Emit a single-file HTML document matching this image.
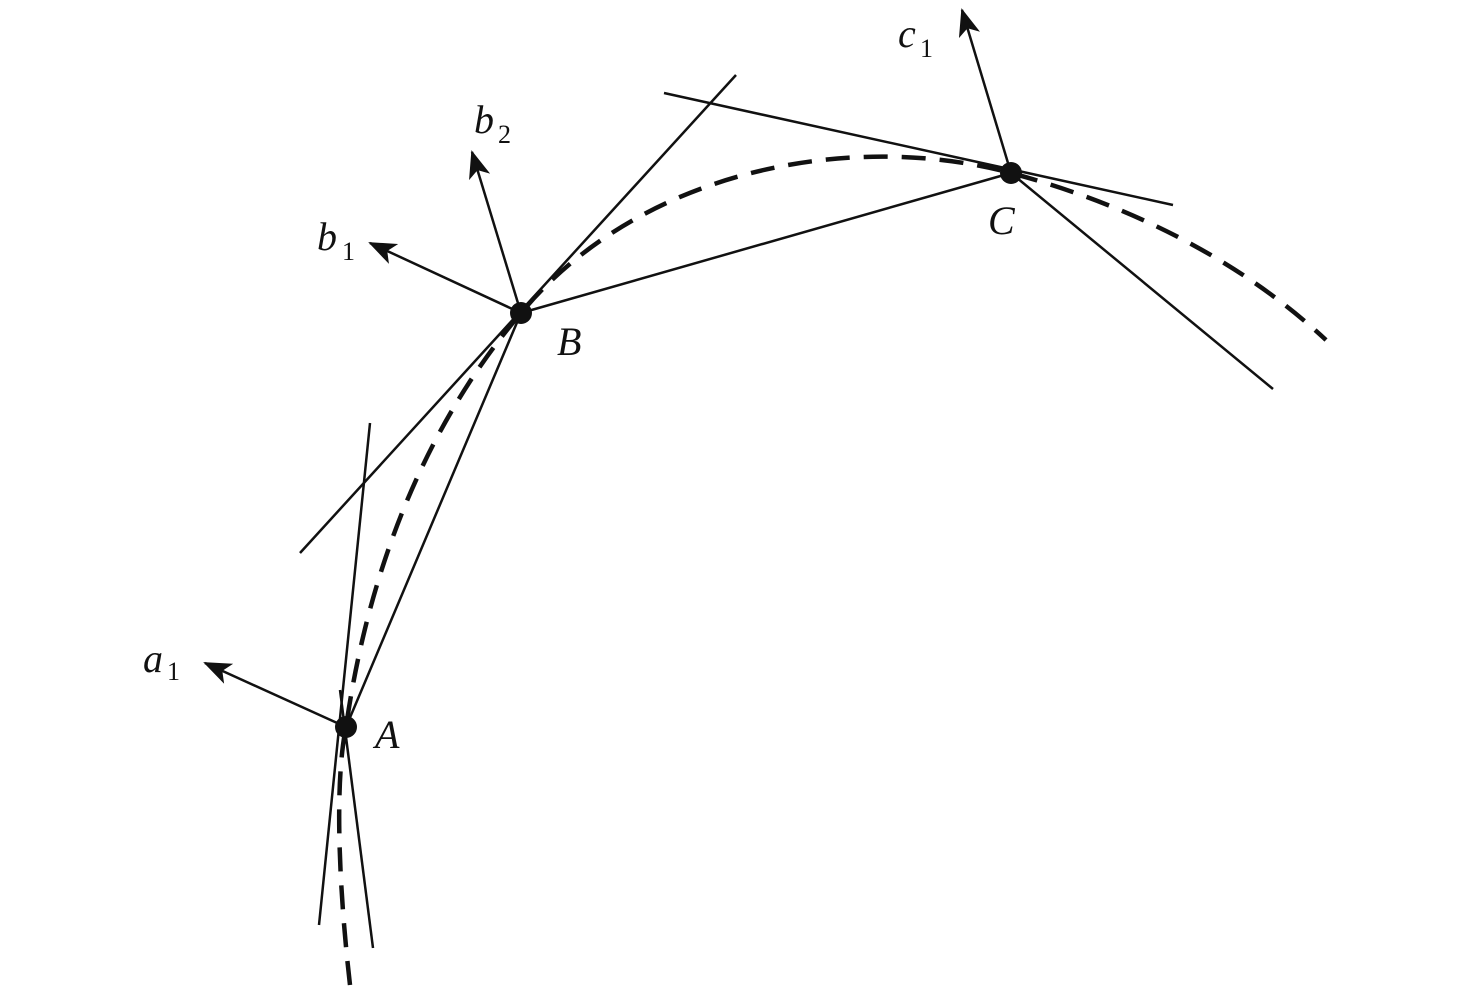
<!DOCTYPE html>
<html><head><meta charset="utf-8"><style>html,body{margin:0;padding:0;background:#fff}</style></head>
<body>
<svg width="1476" height="987" viewBox="0 0 1476 987" xmlns="http://www.w3.org/2000/svg">
<defs>
<marker id="arr" markerWidth="28" markerHeight="22" refX="26" refY="11" orient="auto" markerUnits="userSpaceOnUse"><path d="M0,0 L28,11 L0,22 L7,11 z" fill="#111"/></marker></defs>
<g stroke="#111" stroke-width="2.5" fill="none">
<line x1="370" y1="423" x2="319" y2="925"/>
<line x1="340" y1="690" x2="373" y2="948"/>
<line x1="346" y1="727" x2="521" y2="313"/>
<line x1="300" y1="553" x2="736" y2="75"/>
<line x1="521" y1="313" x2="1011" y2="173"/>
<line x1="664" y1="93" x2="1173" y2="205"/>
<line x1="1011" y1="173" x2="1273" y2="389"/>
</g>
<path d="M350,985 C338,880 335,780 346,727 C370,560 430,420 521,313 C640,170 850,130 1011,173 C1130,205 1240,260 1326,340" stroke="#111" stroke-width="4.5" fill="none" stroke-dasharray="24,14"/>
<g stroke="#111" stroke-width="2.5">
<line x1="346" y1="727" x2="205" y2="663" marker-end="url(#arr)"/>
<line x1="521" y1="313" x2="370" y2="243" marker-end="url(#arr)"/>
<line x1="521" y1="313" x2="472" y2="152" marker-end="url(#arr)"/>
<line x1="1011" y1="173" x2="962" y2="10" marker-end="url(#arr)"/>
</g>
<g fill="#111"><circle cx="346" cy="727" r="11"/><circle cx="521" cy="313" r="11"/><circle cx="1011" cy="173" r="11"/></g>
<g font-family="'Liberation Serif', serif" font-style="italic" font-size="40" fill="#111">
<text x="375" y="748">A</text>
<text x="557" y="355">B</text>
<text x="988" y="234">C</text>
<text x="143" y="672">a</text>
<text x="317" y="250">b</text>
<text x="474" y="133">b</text>
<text x="898" y="47">c</text>
</g>
<g font-family="'Liberation Serif', serif" font-size="26" fill="#111">
<text x="167" y="680">1</text>
<text x="342" y="260">1</text>
<text x="498" y="143">2</text>
<text x="920" y="57">1</text>
</g>
</svg>
</body></html>
